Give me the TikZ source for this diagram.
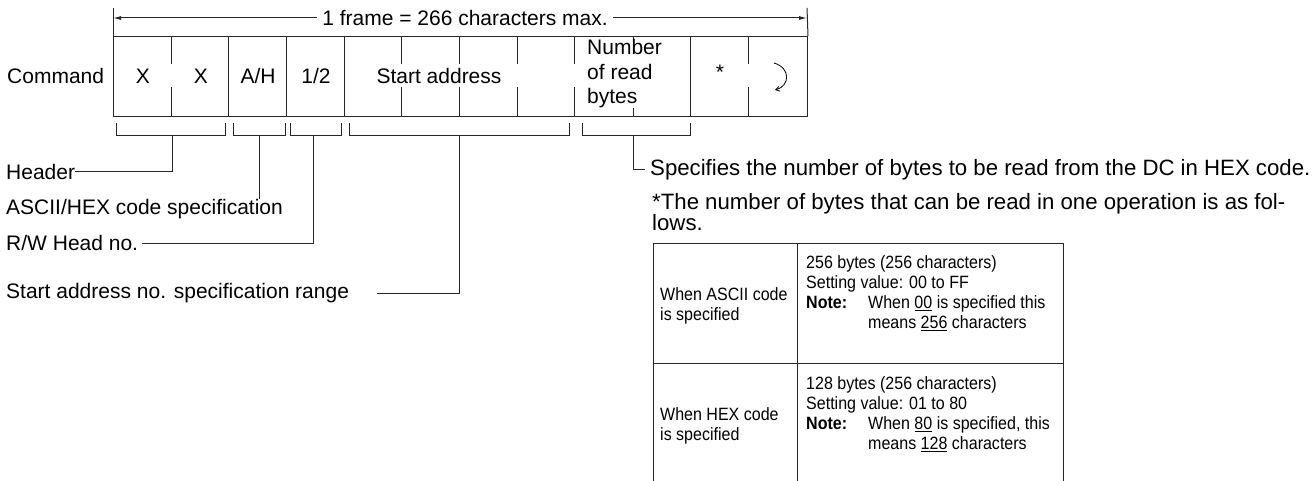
\documentclass[tikz,border=0pt]{standalone}
\usepackage{fontspec}
\setmainfont{Liberation Sans}
\newfontfamily\narrowsans[FakeStretch=0.9]{Liberation Sans}
\usetikzlibrary{arrows.meta}
\begin{document}
\begin{tikzpicture}[x=1pt,y=-1pt,
  ln/.style={line width=1pt,black!85},
  txt/.style={inner sep=0pt,font=\fontsize{21}{24.5}\selectfont,text=black},
  rtxt/.style={inner sep=0pt,font=\fontsize{22.2}{21.5}\selectfont,text=black},
  ttxt/.style={inner sep=0pt,font=\narrowsans\fontsize{17.8}{20.2}\selectfont,text=black,align=left}]
\useasboundingbox (0,0) rectangle (1316,481);
% frame
\node[draw,ln,minimum width=694pt,minimum height=80pt,inner sep=0pt,anchor=north west] (frame) at (113,36) {};
\foreach \x in {228.5,286,344,690} \draw[ln] (\x,36) -- (\x,116);
\foreach \x in {171,401.5,459,517,574.5,748} {\draw[ln] (\x,36) -- (\x,64); \draw[ln] (\x,87) -- (\x,116);}
\draw[ln] (633,36) -- (633,41); \draw[ln] (633,108) -- (633,116);
% dimension
\coordinate (dl) at (113,18); \coordinate (dr) at (807,18);
\draw[ln] (113,8) -- (frame.north west);
\draw[ln] (807,8) -- (frame.north east);
\draw[ln,{Latex[length=8pt,width=4pt]}-{Latex[length=8pt,width=4pt]}] (dl) -- (dr);
\node[txt,fill=white,inner xsep=5pt,inner ysep=2pt] (dim) at (465,18) {1 frame = 266 characters max.};
% cell texts
\node[txt,anchor=west] (cmd) at (7,76) {Command};
\node[txt] (x1) at (143,76) {X};
\node[txt] (x2) at (201,76) {X};
\node[txt] (ah) at (258,76) {A/H};
\node[txt] (hd) at (316,76) {1/2};
\node[txt] (sa) at (439,76) {Start address};
\node[txt,anchor=west,align=left] (nb) at (587,74) {Number\\of read\\bytes};
\node[txt,anchor=base] (ast) at (720,80) {*};
\draw[line width=0.8pt,-{Straight Barb[length=4pt,width=5pt]}] (774,63) .. controls (791,68) and (790,86) .. (775,90);
% brackets
\foreach \a/\b/\n in {116.5/225/1,233/285/2,290/341/3,349/569/4,582/690/5}
  \draw[ln] (\a,123) -- (\a,136) -- (\b,136) -- (\b,123);
\coordinate (s1) at (172,136);
\coordinate (s2) at (259,136);
\coordinate (s3) at (313,136);
\coordinate (s4) at (459,136);
\coordinate (s5) at (633,136);
% labels
\node[txt,anchor=west] (hdr) at (6,172) {Header};
\node[txt,anchor=west] (asc) at (6,209) {ASCII/HEX code specification};
\node[txt,anchor=west] (rw) at (6,243) {R/W Head no.};
\node[txt,anchor=west] (sar) at (6,293) {Start address no. specification range};
\coordinate (sae) at (377,293);
\node[rtxt,anchor=west] (spec) at (650,170) {Specifies the number of bytes to be read from the DC in HEX code.};
\coordinate (spe) at (645,170);
\draw[ln] (s1) |- (hdr.east);
\draw[ln] (s2) -- (s2 |- asc.north);
\draw[ln] (s3) |- ([xshift=4pt]rw.east);
\draw[ln] (s4) |- (sae);
\draw[ln] (s5) |- (spe);
\node[rtxt,anchor=north west,align=left] (note) at (652,193) {*The number of bytes that can be read in one operation is as fol-\\lows.};
% table
\coordinate (t1) at (653,243); \coordinate (t2) at (797,243); \coordinate (t3) at (1063,243);
\draw[ln] (t1) -- (653,481);
\draw[ln] (t2) -- (797,481);
\draw[ln] (t3) -- (1063,481);
\draw[ln] (t1) -- (t3);
\draw[ln] (653,363) -- (1063,363);
\node[ttxt,anchor=west] (c11) at (660,306) {When ASCII code\\is specified};
\node[ttxt,anchor=west] (c12) at (806,293) {256 bytes (256 characters)\\Setting value: 00 to FF\\\makebox[62pt][l]{\textbf{Note:}}When \underline{00} is specified this\\\hspace*{62pt}means \underline{256} characters};
\node[ttxt,anchor=west] (c21) at (660,426) {When HEX code\\is specified};
\node[ttxt,anchor=west] (c22) at (806,414) {128 bytes (256 characters)\\Setting value: 01 to 80\\\makebox[62pt][l]{\textbf{Note:}}When \underline{80} is specified, this\\\hspace*{62pt}means \underline{128} characters};
\end{tikzpicture}
\end{document}
